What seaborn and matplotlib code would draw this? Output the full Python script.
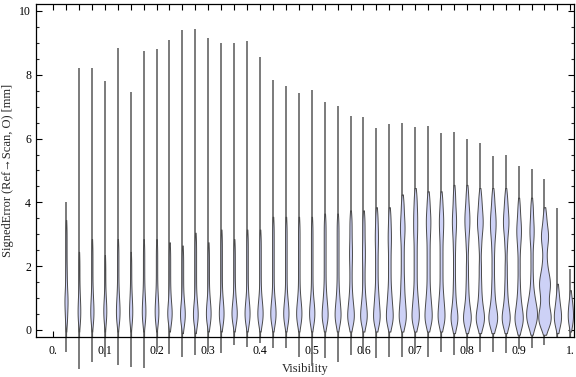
import numpy as np
import pandas as pd
import matplotlib
matplotlib.use("Agg")
import matplotlib.pyplot as plt
import seaborn as sns

# visibility bins (violin centres)
visibility = [0.025, 0.05, 0.075, 0.1, 0.125, 0.15, 0.175, 0.2, 0.225, 0.25,
              0.275, 0.3, 0.325, 0.35, 0.375, 0.4, 0.425, 0.45, 0.475, 0.5,
              0.525, 0.55, 0.575, 0.6, 0.625, 0.65, 0.675, 0.7, 0.725, 0.75,
              0.775, 0.8, 0.825, 0.85, 0.875, 0.9, 0.925, 0.95, 0.975, 1.0]

# largest / smallest signed error in each bin [mm]
err_max = [4.0, 8.2, 8.2, 7.8, 8.85, 7.45, 8.75, 8.8, 9.1, 9.4,
           9.45, 9.14, 9.0, 8.99, 9.05, 8.55, 7.85, 7.64, 7.43, 7.52,
           7.14, 7.02, 6.71, 6.68, 6.34, 6.45, 6.48, 6.35, 6.39, 6.17,
           6.2, 5.98, 5.86, 5.45, 5.49, 5.14, 5.05, 4.74, 3.82, 1.9]
err_min = [-0.68, -1.23, -0.99, -0.86, -1.1, -1.17, -1.2, -0.68, -0.75, -0.84,
           -0.78, -0.68, -0.73, -0.47, -0.54, -0.42, -0.57, -0.57, -0.84, -1.13,
           -0.89, -0.99, -0.78, -0.73, -0.89, -0.84, -0.86, -0.73, -0.84, -0.68,
           -0.78, -0.7, -0.68, -0.68, -0.73, -0.6, -0.57, -0.47, -0.26, -0.21]

# bulk of the observations in each bin [mm]
err_body = [
    [0.2, 0.4, 0.6, 0.8, 0.9, 1.0, 1.2, 1.4, 1.7, 2.0, 2.4, 2.8, 3.2],
    [0.2, 0.35, 0.5, 0.6, 0.75, 0.9, 1.1, 1.4, 1.8, 2.2],
    [0.2, 0.35, 0.5, 0.6, 0.75, 0.9, 1.1, 1.4, 1.8, 2.2, 2.6],
    [0.2, 0.35, 0.5, 0.6, 0.7, 0.85, 1.0, 1.3, 1.7, 2.1],
    [0.2, 0.35, 0.5, 0.6, 0.75, 0.9, 1.1, 1.4, 1.8, 2.2, 2.6],
    [0.2, 0.35, 0.5, 0.6, 0.75, 0.9, 1.1, 1.4, 1.8, 2.2],
    [0.2, 0.35, 0.5, 0.6, 0.75, 0.9, 1.1, 1.4, 1.8, 2.2, 2.6],
    [0.2, 0.35, 0.5, 0.6, 0.75, 0.9, 1.1, 1.4, 1.8, 2.2, 2.6],
    [0.2, 0.35, 0.45, 0.55, 0.65, 0.8, 1.0, 1.3, 1.7, 2.1, 2.5],
    [0.15, 0.3, 0.4, 0.5, 0.6, 0.75, 0.9, 1.2, 1.6, 2.0, 2.4],
    [0.15, 0.3, 0.4, 0.5, 0.6, 0.75, 0.9, 1.2, 1.6, 2.0, 2.4, 2.8],
    [0.2, 0.3, 0.4, 0.5, 0.6, 0.7, 0.85, 1.0, 1.3, 1.7, 2.1, 2.5],
    [0.2, 0.3, 0.4, 0.5, 0.6, 0.7, 0.85, 1.0, 1.3, 1.7, 2.1, 2.5, 2.9],
    [0.2, 0.3, 0.4, 0.5, 0.55, 0.65, 0.75, 0.9, 1.1, 1.4, 1.8, 2.2, 2.6],
    [0.2, 0.3, 0.4, 0.5, 0.6, 0.7, 0.85, 1.0, 1.3, 1.7, 2.1, 2.5, 2.9],
    [0.2, 0.3, 0.4, 0.5, 0.6, 0.7, 0.85, 1.0, 1.3, 1.7, 2.1, 2.5, 2.9],
    [0.2, 0.3, 0.4, 0.5, 0.6, 0.7, 0.85, 1.0, 1.3, 1.7, 2.1, 2.5, 2.9, 3.3],
    [0.2, 0.3, 0.4, 0.5, 0.6, 0.7, 0.85, 1.0, 1.3, 1.7, 2.1, 2.5, 2.9, 3.3],
    [0.2, 0.3, 0.4, 0.5, 0.6, 0.7, 0.85, 1.0, 1.3, 1.7, 2.1, 2.5, 2.9, 3.3],
    [0.2, 0.3, 0.4, 0.5, 0.6, 0.7, 0.85, 1.0, 1.3, 1.7, 2.1, 2.5, 2.9, 3.3],
    [0.2, 0.3, 0.4, 0.5, 0.6, 0.75, 0.9, 1.1, 1.4, 1.8, 2.2, 2.6, 3.0, 3.4],
    [0.2, 0.3, 0.4, 0.5, 0.6, 0.75, 0.9, 1.1, 1.4, 1.8, 2.2, 2.6, 3.0, 3.4],
    [0.2, 0.3, 0.4, 0.5, 0.65, 0.8, 1.0, 1.3, 1.7, 2.1, 2.4, 2.7, 3.1, 3.5],
    [0.2, 0.3, 0.4, 0.5, 0.65, 0.8, 1.0, 1.3, 1.7, 2.1, 2.4, 2.7, 3.1, 3.5],
    [0.2, 0.3, 0.4, 0.55, 0.7, 0.9, 1.1, 1.4, 1.8, 2.2, 2.6, 2.9, 3.2, 3.6],
    [0.2, 0.3, 0.4, 0.55, 0.7, 0.9, 1.1, 1.4, 1.8, 2.2, 2.6, 2.9, 3.2, 3.6],
    [0.2, 0.3, 0.45, 0.6, 0.8, 1.0, 1.3, 1.6, 2.0, 2.4, 2.8, 3.1, 3.3, 3.6, 4.0],
    [0.2, 0.3, 0.45, 0.6, 0.8, 1.0, 1.3, 1.7, 2.1, 2.5, 2.9, 3.2, 3.5, 3.8, 4.2],
    [0.2, 0.3, 0.45, 0.6, 0.8, 1.0, 1.3, 1.7, 2.1, 2.5, 2.9, 3.2, 3.45, 3.7, 4.1],
    [0.2, 0.3, 0.45, 0.6, 0.8, 1.0, 1.3, 1.7, 2.1, 2.5, 2.9, 3.2, 3.45, 3.7, 4.1],
    [0.15, 0.25, 0.35, 0.45, 0.6, 0.8, 1.1, 1.5, 2.0, 2.5, 2.9, 3.2, 3.4, 3.6, 3.9, 4.3],
    [0.15, 0.25, 0.35, 0.45, 0.6, 0.8, 1.1, 1.5, 2.0, 2.6, 3.0, 3.25, 3.45, 3.65, 3.9, 4.3],
    [0.15, 0.25, 0.35, 0.45, 0.6, 0.8, 1.1, 1.5, 2.0, 2.6, 3.0, 3.25, 3.4, 3.6, 3.85, 4.2],
    [0.15, 0.25, 0.35, 0.45, 0.6, 0.8, 1.1, 1.5, 2.0, 2.5, 2.9, 3.15, 3.35, 3.55, 3.8, 4.2],
    [0.15, 0.25, 0.35, 0.45, 0.6, 0.8, 1.1, 1.5, 2.0, 2.6, 3.0, 3.25, 3.4, 3.6, 3.85, 4.2],
    [0.1, 0.2, 0.3, 0.4, 0.5, 0.65, 0.85, 1.1, 1.5, 2.0, 2.5, 2.85, 3.05, 3.25, 3.5, 3.9],
    [0.1, 0.2, 0.3, 0.4, 0.5, 0.55, 0.65, 0.75, 0.9, 1.05, 1.3, 1.7, 2.2, 2.7, 3.0, 3.2, 3.5, 3.9],
    [0.1, 0.2, 0.3, 0.4, 0.5, 0.6, 0.8, 1.0, 1.2, 1.35, 1.45, 1.55, 1.7, 1.9, 2.2, 2.6, 2.85, 3.0, 3.2, 3.6],
    [0.15, 0.25, 0.35, 0.45, 0.55, 0.7, 0.9, 1.2],
    [0.2, 0.3, 0.4, 0.5, 0.65, 0.8, 1.0],
]

# drawn width of each violin, in visibility units
violin_w = [0.0060, 0.0052, 0.0062, 0.0058, 0.0070, 0.0062, 0.0070, 0.0072, 0.0085, 0.0092,
            0.0092, 0.0091, 0.0091, 0.0102, 0.0097, 0.0102, 0.0102, 0.0102, 0.0102, 0.0102,
            0.0115, 0.0115, 0.0128, 0.0128, 0.0128, 0.0132, 0.0138, 0.0142, 0.0140, 0.0134,
            0.0132, 0.0150, 0.0160, 0.0170, 0.0155, 0.0160, 0.0210, 0.0240, 0.0140, 0.0102]

x_ticks = [round(0.025 * i, 3) for i in range(41)]
x_labels = ['0.', '', '', '', '0.1', '', '', '', '0.2', '', '', '', '0.3', '', '', '',
            '0.4', '', '', '', '0.5', '', '', '', '0.6', '', '', '', '0.7', '', '', '',
            '0.8', '', '', '', '0.9', '', '', '', '1.']
y_ticks = [0, 2, 4, 6, 8, 10]

kernel_sd = 0.25

sns.set_style("ticks")
plt.rcParams['font.family'] = ['Liberation Serif', 'DejaVu Serif']
plt.rcParams['font.size'] = 8.5

fig = plt.figure(figsize=(5.76, 3.77), dpi=100)
ax = fig.add_axes([0.0625, 0.1061, 0.9340, 0.8825])

# thin spike from the smallest to the largest error
ax.vlines(visibility, err_min, err_max, colors='#656565', linewidth=1.2,
          zorder=1, clip_on=False)

for i, pos in enumerate(visibility):
    vals = err_body[i]
    df = pd.DataFrame({'vis': [pos] * len(vals), 'err': vals})
    bw = kernel_sd / np.std(vals, ddof=1)
    sns.violinplot(data=df, x='vis', y='err', ax=ax, native_scale=True,
                   width=violin_w[i], density_norm='width', cut=1.0, gridsize=300,
                   bw_method=bw, inner=None, color='#cdd1f6', saturation=1,
                   linecolor='#4a4a4a', linewidth=0.7)

for coll in ax.collections:
    coll.set_clip_on(False)
    if coll.get_zorder() < 2:
        coll.set_zorder(2)

ax.set_xlim(-0.033, 1.007)
ax.set_ylim(-0.22, 10.21)
ax.set_xticks(x_ticks)
ax.set_xticklabels(x_labels)
ax.set_yticks(y_ticks)
ax.set_yticklabels([str(v) for v in y_ticks])
ax.set_yticks(np.arange(0, 10.01, 0.5), minor=True)
ax.tick_params(axis='both', which='major', direction='in', top=True, right=True,
               length=4, width=0.8, colors='black', labelsize=8.5)
ax.tick_params(axis='y', which='minor', direction='in', right=True, length=2.5, width=0.8)
ax.tick_params(axis='x', which='major', pad=6)
for sp in ax.spines.values():
    sp.set_linewidth(0.9)
    sp.set_color('black')

ax.set_xlabel('Visibility', fontsize=9, labelpad=4)
ax.set_ylabel('SignedError (Ref\u2192Scan, O) [mm]', fontsize=9, labelpad=4)

fig.savefig('out.png', dpi=100)
